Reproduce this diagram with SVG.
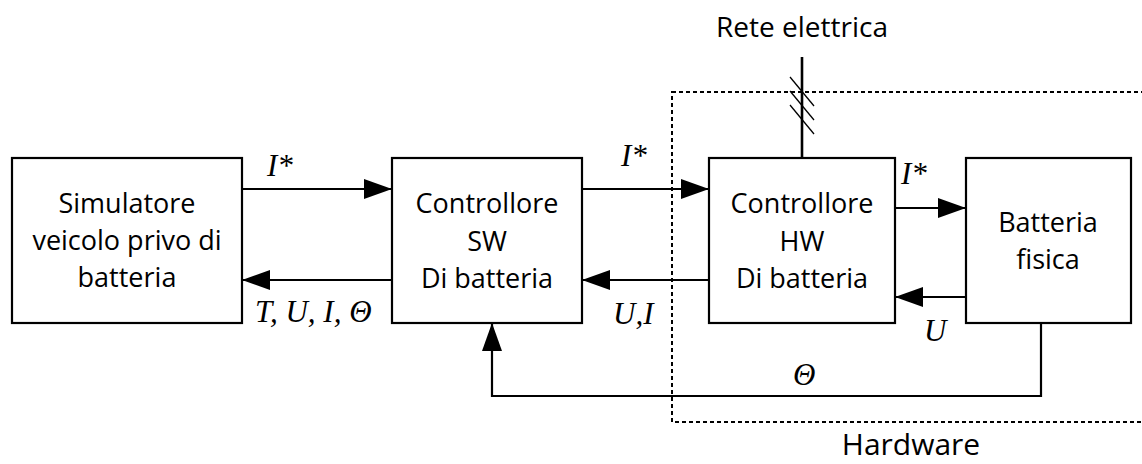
<svg xmlns="http://www.w3.org/2000/svg" width="1142" height="464" viewBox="0 0 1142 464">
<style>
.box{fill:#fff;stroke:#000;stroke-width:2.2}
.lbl{font-family:"Open Sans","Noto Sans",sans-serif;font-size:27px;fill:#000;text-anchor:middle}
.math{font-family:"Liberation Serif","Times New Roman",serif;font-style:italic;font-size:31px;fill:#000}
.wire{fill:none;stroke:#000;stroke-width:2.2}
.dot{fill:none;stroke:#000;stroke-width:2;stroke-dasharray:4 3}
.slash{stroke:#000;stroke-width:1.3}
</style>
<defs>
<marker id="ah" viewBox="0 0 28 20" refX="28" refY="10" markerWidth="28" markerHeight="20" markerUnits="userSpaceOnUse" orient="auto">
<path d="M0,0 L28,10 L0,20 Z" fill="#000"/>
</marker>
</defs>
<rect class="dot" x="672" y="92" width="500" height="330"/>
<g id="connectors">
<line class="wire" x1="242" y1="189" x2="392" y2="189" marker-end="url(#ah)"/>
<line class="wire" x1="392" y1="280" x2="242" y2="280" marker-end="url(#ah)"/>
<line class="wire" x1="582" y1="189" x2="709" y2="189" marker-end="url(#ah)"/>
<line class="wire" x1="709" y1="280" x2="582" y2="280" marker-end="url(#ah)"/>
<line class="wire" x1="895" y1="208" x2="966" y2="208" marker-end="url(#ah)"/>
<line class="wire" x1="966" y1="297" x2="895" y2="297" marker-end="url(#ah)"/>
<polyline class="wire" points="1041,323 1041,396 492,396 492,323" marker-end="url(#ah)"/>
<line x1="802" y1="57" x2="802" y2="158" stroke="#000" stroke-width="2.6"/>
<line class="slash" x1="790" y1="77" x2="814" y2="106"/>
<line class="slash" x1="790" y1="91" x2="814" y2="120"/>
<line class="slash" x1="790" y1="105" x2="814" y2="134"/>
</g>
<g id="n-sim">
<rect class="box" x="12" y="158" width="230" height="165"/>
<text class="lbl" x="127" y="213">Simulatore</text>
<text class="lbl" x="127" y="250">veicolo privo di</text>
<text class="lbl" x="127" y="287">batteria</text>
</g>
<g id="n-sw">
<rect class="box" x="392" y="158" width="190" height="165"/>
<text class="lbl" x="487" y="213">Controllore</text>
<text class="lbl" x="487" y="251">SW</text>
<text class="lbl" x="487" y="288">Di batteria</text>
</g>
<g id="n-hw">
<rect class="box" x="709" y="158" width="186" height="165"/>
<text class="lbl" x="802" y="213">Controllore</text>
<text class="lbl" x="802" y="251">HW</text>
<text class="lbl" x="802" y="288">Di batteria</text>
</g>
<g id="n-bat">
<rect class="box" x="966" y="158" width="165" height="165"/>
<text class="lbl" x="1048" y="232">Batteria</text>
<text class="lbl" x="1048" y="269">fisica</text>
</g>
<g id="labels">
<text class="lbl" x="802" y="37" style="font-size:28px">Rete elettrica</text>
<text class="lbl" x="911" y="455" style="font-size:30px">Hardware</text>
<text class="math" x="267" y="176">I*</text>
<text class="math" x="255" y="322">T, U, I, Θ</text>
<text class="math" x="621" y="166">I*</text>
<text class="math" x="613" y="324">U,I</text>
<text class="math" x="901" y="184">I*</text>
<text class="math" x="924" y="341">U</text>
<text class="math" x="793" y="385">Θ</text>
</g>
</svg>
